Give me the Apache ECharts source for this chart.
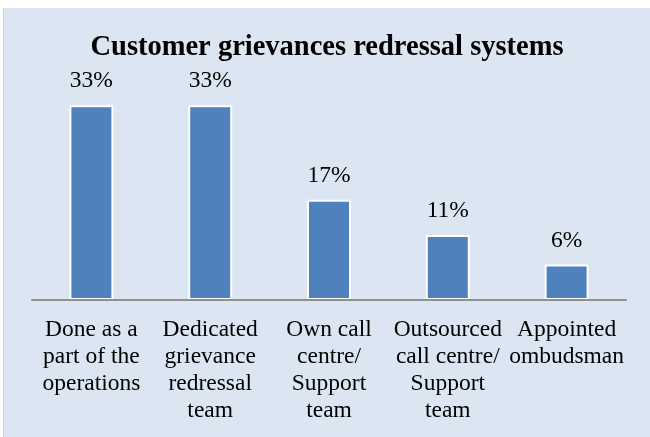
<!DOCTYPE html>
<html>
<head>
<meta charset="utf-8">
<script src="https://cdn.jsdelivr.net/npm/echarts@6/dist/echarts.min.js"></script>
<style>
  html, body { margin: 0; padding: 0; background: #ffffff; }
  #chart {
    position: absolute; left: 3px; top: 8px;
    width: 647px; height: 429px;
    border-left: 1px solid #c8d2de;
    box-sizing: border-box;
  }
</style>
</head>
<body>
<div id="chart"></div>
<script>
// Survey shares of redressal mechanisms (percent)
const categories = [
  'Done as a\npart of the\noperations',
  'Dedicated\ngrievance\nredressal\nteam',
  'Own call\ncentre/\nSupport\nteam',
  'Outsourced\ncall centre/\nSupport\nteam',
  'Appointed\nombudsman'
];
const shares = [33, 33, 17, 11, 6];

const serif = "'Times New Roman', 'Liberation Serif', serif";

const chart = echarts.init(document.getElementById('chart'), null, { renderer: 'canvas' });
chart.setOption({
  backgroundColor: '#dce6f2',
  animation: false,
  title: {
    text: 'Customer grievances redressal systems',
    left: 'center',
    top: 20,
    textStyle: { fontFamily: serif, fontSize: 28.5, fontWeight: 'bold', color: '#000' }
  },
  grid: { left: 28, right: 24, top: 56, bottom: 137 },
  xAxis: {
    type: 'category',
    data: categories,
    z: 5,
    axisLine: { lineStyle: { color: '#909090', width: 2 } },
    axisTick: { show: false },
    axisLabel: {
      interval: 0,
      margin: 16,
      fontFamily: serif,
      fontSize: 23.5,
      lineHeight: 27,
      color: '#000',
      align: 'center'
    }
  },
  yAxis: {
    type: 'value',
    min: 0,
    max: 40,
    show: false,
    splitLine: { show: false }
  },
  series: [{
    type: 'bar',
    data: shares,
    barWidth: 44,
    itemStyle: { color: '#4f81bd', borderColor: '#ffffff', borderWidth: 2 },
    label: {
      show: true,
      position: 'top',
      distance: 12,
      formatter: p => p.value + '%',
      fontFamily: serif,
      fontSize: 23.5,
      color: '#000'
    }
  }]
});
</script>
</body>
</html>
